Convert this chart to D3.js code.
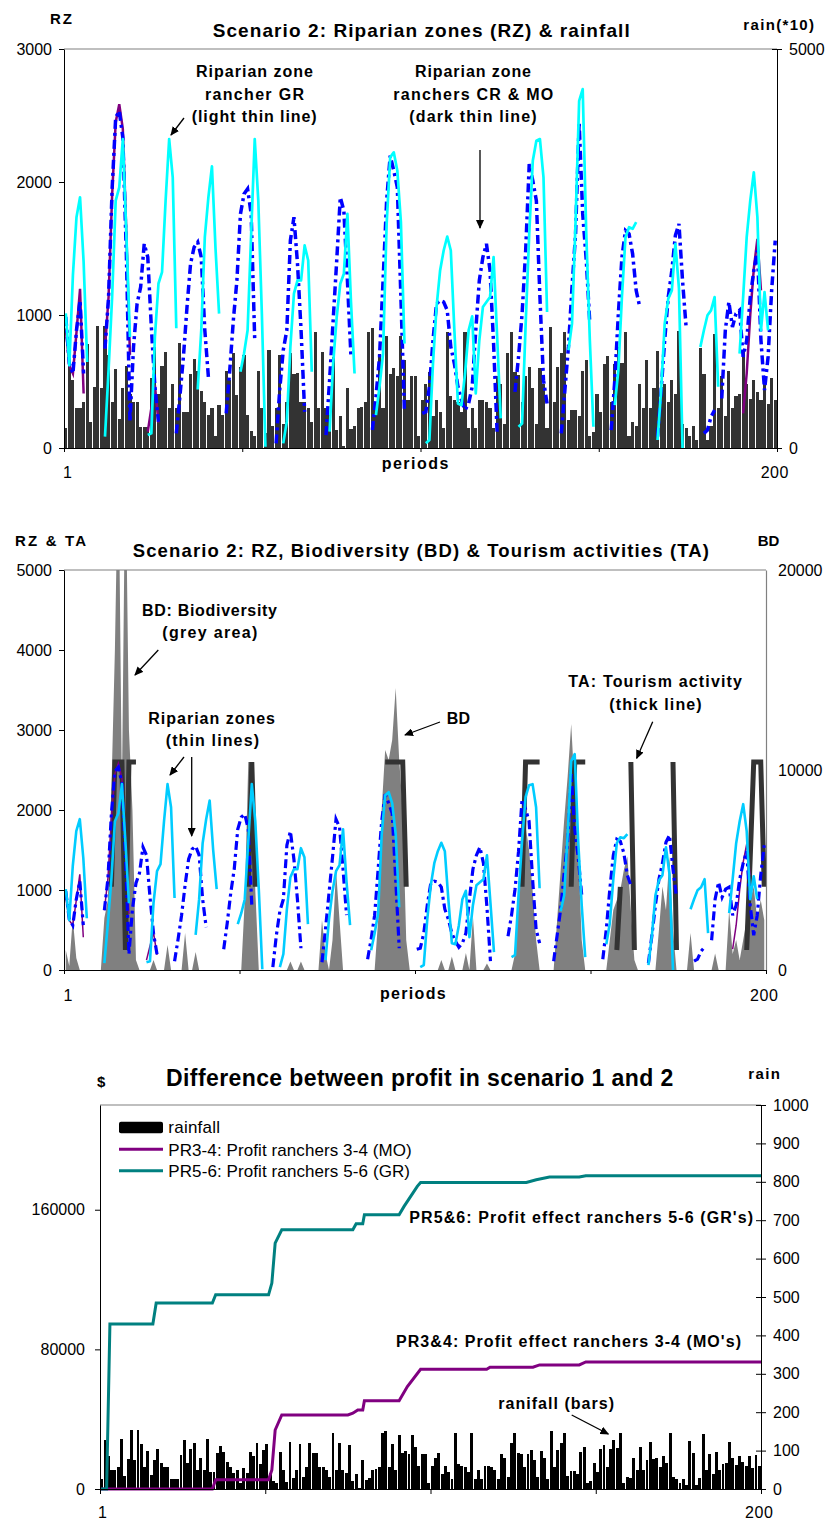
<!DOCTYPE html>
<meta charset="utf-8">
<style>
body { margin: 0; background: #fff; }
text { font-family: "Liberation Sans", Arial, sans-serif; fill: #000; }
</style>
<body>
<script src="https://d3js.org/d3.v7.min.js"></script>
<script>

// rainfall per period (mm), periods 1..200
var rain = [
  25,127,85,50,50,58,130,33,77,153, 75,153,116,58,99,36,75,103,68,58,
  58,26,26,26,88,127,68,103,120,50, 80,50,131,45,45,93,112,97,71,58,
  41,50,15,54,41,97,85,119,66,101, 116,41,21,15,97,50,19,123,28,50,
  116,30,58,119,93,94,58,58,50,32, 145,50,120,50,41,114,22,40,2,75,
  24,28,50,51,58,145,150,58,118,50, 140,93,100,90,140,110,60,90,90,15,
  60,80,95,40,60,45,25,145,65,60, 58,45,145,25,50,25,60,60,58,50,
  25,90,80,30,119,145,95,92,58,90, 101,75,30,100,80,25,152,58,101,119,
  145,35,48,48,40,97,110,15,20,68, 45,105,115,58,105,127,107,145,15,32,
  28,80,50,110,50,75,122,77,80,58, 85,68,147,30,25,15,27,10,125,93,
  10,28,143,50,90,40,97,50,65,68, 123,80,62,85,70,60,85,55,88,60
];

// riparian zones: [first period, consecutive values]
var rzGR = [
  [1, [1012,622,1300,1735,1885,1400,647]],
  [12, [85,585,1135,1860,1960,2323,1600,835]],
  [24, [98,110,835,1237,1323,1860,2323,2035,900]],
  [38, [440,885,1585,1885,2118,1500,1010]],
  [50, [573,710,885,1610,2323,1860,1010,10]],
  [62, [35,200,760,1160,1260,1260,1523,1410,573]],
  [75, [123,635,985,1235,1310,1760,1100,560]],
  [88, [247,460,710,1685,2185,2223,2085,1700,785]],
  [102, [35,60,635,1060,1335,1485,1590,1485,885,335,322,560,885,990,410,810,1060,1098,1135,1435,835,223]],
  [128, [160,185,935,1610,2160,2310,2323,2035,1022]],
  [142, [735,935,1700,2610,2698,1610,810,160]],
  [155, [322,585,1135,1585,1660,1648,1698]],
  [167, [60,435,935,1123,1185,1535,1200,0]],
  [179, [760,885,998,1035,1135,460]],
  [190, [710,1135,1585,1860,2073,1735,885,1172,885]]
];
var rzCR = [
  [1, [985,635,560,885,1110,560]],
  [12, [747,1135,1950,2485,2535,2335,1450,197,760,1085,1210,1535,1435,910,460,197]],
  [32, [110,385,685,1060,1385,1510,1548,1435,885,535]],
  [46, [260,585,960,1260,1760,1910,1948,1760,810]],
  [60, [35,435,735,885,1560,1735,1385,885,272]],
  [74, [97,510,960,1410,1885,1785,1260,685]],
  [87, [135,385,685,1260,1860,2198,2085,1960,1135,272]],
  [101, [260,272,460,810,1085,1110,1098,1035,760,635,460,360,285,335,460,885,1260,1435,1535,1335,785,110]],
  [127, [422,685,1010,1485,2135,2010,1860,1135,510,335]],
  [140, [110,435,760,1210,1610,2448,1760,1410,935]],
  [154, [135,510,1010,1435,1635,1610,1460,1185,1060]],
  [167, [85,435,810,1135,1335,1598,1685,1260,910]],
  [180, [110,135,235,285]],
  [185, [372,885,1098,910,1010,1035,685,810,1135,1335,1485,810,435,685,1185,1560]]
];
var rzMO = [
  [1, [900,620,560,870,1197,410]],
  [12, [747,1135,1900,2450,2585,2400,1610,700]],
  [24, [123,300,470,190]],
  [191, [260,560,1000,1350,1572,1185]]
];

// biodiversity per period, periods 1..200
var bd = [
  1000,200,2600,600,0,0,0,0,0,0, 0,2600,3500,9000,16000,26000,9000,26000,12000,8000,
  500,0,0,0,0,500,0,0,0,1250, 0,0,0,0,1850,0,0,900,0,0,
  0,0,0,0,0,0,0,0,0,0, 0,3500,10400,10400,4000,0,0,0,0,0,
  0,0,0,0,420,0,0,420,0,0, 0,0,0,2500,800,0,1500,5000,2500,0,
  0,0,0,0,0,0,0,0,0,2500, 8000,11000,10500,11500,14100,10500,8000,1500,0,0,
  0,0,0,0,0,0,0,500,0,0, 670,0,0,0,850,0,2670,0,0,0,
  330,0,0,0,0,0,0,0,800,3500, 7000,7200,6000,4000,1500,0,0,0,0,0,
  2500,5000,7500,9700,12300,9000,6000,1500,0,0, 0,0,0,0,0,1500,3000,3500,4000,5000,
  5670,3000,500,0,0,0,0,0,0,2000, 4170,3000,5670,2000,0,0,0,0,1850,0,
  0,0,0,0,0,830,0,0,0,3000, 800,1500,500,1500,2500,3500,4170,2500,3500,2500
];

// tourism activity: [first period, consecutive values]
var ta = [
  [14, [1040,2600,2600,2600,250,2600,2600,2600]],
  [53, [1040,2600,1040]],
  [92, [2600,2600,2600,2600,2600,2600,1040]],
  [131, [1040,2600,2600,2600,2600,2600]],
  [145, [1040,2600,2600,2600,2600]],
  [158, [250,1040]],
  [162, [2600,250]],
  [174, [2600,250]],
  [195, [250,1400,2600,2600,2600,1040]]
];

// cumulative profit difference: [period, $]
var profitMO = [[0,0],[34,0],[35,5300],[51,5300],[52,10900],[53,33800],[55,42400],[75,42400],
  [76.5,43400],[78,45300],[79.5,45300],[80,50600],[90.5,50600],[93,58700],[97,68600],[117,68600],
  [118,69800],[131,69800],[133,71100],[145,71100],[147,72800],[200,72800]];
var profitGR = [[0,0],[2,0],[3,94600],[16,94600],[17,106500],[34,106500],[35,111250],[51,111250],
  [52,118000],[53,140900],[55,148500],[76.5,148500],[77.5,152000],[79.5,152000],[80,157100],
  [90.5,157100],[92,161900],[96,173400],[97,175600],[129,175600],[132,177200],[136,178700],
  [145,178700],[147,179500],[200,179500]];

var svg = d3.select("body").append("svg")
    .attr("width", 831).attr("height", 1519);
svg.append("rect").attr("width", 831).attr("height", 1519).attr("fill", "#fff");

var defs = svg.append("defs");
defs.append("marker").attr("id", "arr")
    .attr("markerUnits", "userSpaceOnUse")
    .attr("markerWidth", 9).attr("markerHeight", 8)
    .attr("refX", 8).attr("refY", 4).attr("orient", "auto")
  .append("path").attr("d", "M0,0 L9,4 L0,8 z").attr("fill", "#000");

var fmt = d3.format("d");

function label(g, s, x, y, size, bold, len) {
  var t = g.append("text").attr("x", x).attr("y", y)
      .attr("font-size", size)
      .attr("font-weight", bold ? "bold" : "normal")
      .text(s);
  if (len) t.attr("textLength", len).attr("lengthAdjust", "spacing");
  return t;
}
function arrow(g, x1, y1, x2, y2) {
  g.append("line").attr("x1", x1).attr("y1", y1).attr("x2", x2).attr("y2", y2)
    .attr("stroke", "#000").attr("stroke-width", 1.3).attr("marker-end", "url(#arr)");
}
function segPoints(segs) {
  var pts = [];
  segs.forEach(function(s) {
    s[1].forEach(function(v, i) { pts.push([s[0] + i, v]); });
    pts.push([null, null]);
  });
  return pts;
}
function styleAxis(a) {
  a.attr("font-size", 16).attr("font-family", "Liberation Sans, Arial, sans-serif");
  a.selectAll("path, line").attr("stroke", "#000");
  a.selectAll("text").attr("fill", "#000");
}
function clip(id, x0, y0, x1, y1) {
  defs.append("clipPath").attr("id", id).append("rect")
    .attr("x", x0).attr("y", y0).attr("width", x1 - x0).attr("height", y1 - y0);
}

// ---------------- panel 1: riparian zones & rainfall ----------------
var p1 = {l: 64, r: 777, t: 49, b: 448};
var x1 = d3.scaleLinear().domain([0, 200]).range([p1.l, p1.r]);
var y1 = d3.scaleLinear().domain([0, 3000]).range([p1.b, p1.t]);
var y1r = d3.scaleLinear().domain([0, 5000]).range([p1.b, p1.t]);
var g1 = svg.append("g");
clip("c1", p1.l, p1.t, p1.r, p1.b + 2);
var g1c = g1.append("g").attr("clip-path", "url(#c1)");

g1.append("line").attr("x1", p1.l).attr("x2", p1.r).attr("y1", p1.t).attr("y2", p1.t)
  .attr("stroke", "#808080").attr("stroke-width", 1.2);

g1c.selectAll(".bar").data(rain).enter().append("rect")
  .attr("x", function(d, i) { return x1(i) + 0.2; })
  .attr("width", x1(1) - x1(0) - 0.4)
  .attr("y", function(d) { return y1r(d * 10); })
  .attr("height", function(d) { return p1.b - y1r(d * 10); })
  .attr("fill", "#333").attr("shape-rendering", "crispEdges");

var line1 = d3.line().defined(function(d) { return d[1] != null; })
  .x(function(d) { return x1(d[0] - 0.5); })
  .y(function(d) { return y1(d[1]); });
g1c.append("path").attr("d", line1(segPoints(rzMO))).attr("fill", "none")
  .attr("stroke", "#800080").attr("stroke-width", 2.5);
g1c.append("path").attr("d", line1(segPoints(rzCR))).attr("fill", "none")
  .attr("stroke", "#0000ff").attr("stroke-width", 3.5).attr("stroke-dasharray", "9,4,3,4");
g1c.append("path").attr("d", line1(segPoints(rzGR))).attr("fill", "none")
  .attr("stroke", "#00ffff").attr("stroke-width", 2.7).attr("stroke-linejoin", "round");

var a;
a = g1.append("g").attr("transform", "translate(" + p1.l + ",0)")
  .call(d3.axisLeft(y1).tickValues([0, 1000, 2000, 3000]).tickFormat(fmt).tickSize(5).tickSizeOuter(0).tickPadding(7));
styleAxis(a);
a = g1.append("g").attr("transform", "translate(" + p1.r + ",0)")
  .call(d3.axisRight(y1r).tickValues([0, 5000]).tickFormat(fmt).tickSize(5).tickSizeOuter(0).tickPadding(7));
styleAxis(a); a.selectAll(".tick line").attr("x1", -5);
a = g1.append("g").attr("transform", "translate(0," + p1.b + ")")
  .call(d3.axisBottom(x1).tickValues([0, 50, 100, 150, 200]).tickSize(4).tickSizeOuter(0).tickFormat(""));
styleAxis(a);

label(g1, "Scenario 2: Riparian zones (RZ) & rainfall", 212.7, 36.5, 19, true, 417);
label(g1, "RZ", 50, 24.3, 15, true, 22);
label(g1, "rain(*10)", 743.3, 29.5, 15, true, 70.7);
label(g1, "Riparian zone", 196, 77.3, 16, true, 117);
label(g1, "rancher GR", 205, 99.7, 16, true, 99);
label(g1, "(light thin line)", 191.7, 122.3, 16, true, 125);
label(g1, "Riparian zone", 415, 77.3, 16, true, 116);
label(g1, "ranchers CR & MO", 393.3, 99.7, 16, true, 160);
label(g1, "(dark thin line)", 409.3, 122.3, 16, true, 127.3);
arrow(g1, 184, 118, 171, 135);
arrow(g1, 480, 150, 480, 228);
label(g1, "periods", 381.7, 469, 16, true, 66.6);
label(g1, "1", 63, 478.3, 16, false);
label(g1, "200", 760.7, 478.3, 16, false, 27.6);

// ---------------- panel 2: RZ, biodiversity & tourism ----------------
var p2 = {l: 64, r: 766, t: 570, b: 970};
var x2 = d3.scaleLinear().domain([0, 200]).range([p2.l, p2.r]);
var y2 = d3.scaleLinear().domain([0, 5000]).range([p2.b, p2.t]);
var y2r = d3.scaleLinear().domain([0, 20000]).range([p2.b, p2.t]);
var g2 = svg.append("g");
clip("c2", p2.l, p2.t, p2.r, p2.b + 2);
var g2c = g2.append("g").attr("clip-path", "url(#c2)");

var area2 = d3.area()
  .x(function(d, i) { return x2(i + 0.5); })
  .y0(p2.b).y1(function(d) { return y2r(d); });
g2c.append("path").attr("d", area2(bd)).attr("fill", "#808080");

var line2 = d3.line().defined(function(d) { return d[1] != null; })
  .x(function(d) { return x2(d[0] - 0.5); })
  .y(function(d) { return y2(d[1]); });
g2c.append("path").attr("d", line2(segPoints(ta))).attr("fill", "none")
  .attr("stroke", "#333").attr("stroke-width", 5);
g2c.append("path").attr("d", line2(segPoints(rzMO))).attr("fill", "none")
  .attr("stroke", "#800080").attr("stroke-width", 1.5);
g2c.append("path").attr("d", line2(segPoints(rzCR))).attr("fill", "none")
  .attr("stroke", "#0000ff").attr("stroke-width", 3.2).attr("stroke-dasharray", "9,4,3,4");
g2c.append("path").attr("d", line2(segPoints(rzGR))).attr("fill", "none")
  .attr("stroke", "#00ccff").attr("stroke-width", 2.6).attr("stroke-linejoin", "round");

g2.append("line").attr("x1", p2.l).attr("x2", p2.r).attr("y1", p2.t).attr("y2", p2.t)
  .attr("stroke", "#808080").attr("stroke-width", 1.2);
a = g2.append("g").attr("transform", "translate(" + p2.l + ",0)")
  .call(d3.axisLeft(y2).tickValues([0, 1000, 2000, 3000, 4000, 5000]).tickFormat(fmt).tickSize(5).tickSizeOuter(0).tickPadding(7));
styleAxis(a);
a = g2.append("g").attr("transform", "translate(" + p2.r + ",0)")
  .call(d3.axisRight(y2r).tickValues([0, 10000, 20000]).tickFormat(fmt).tickSize(0).tickPadding(12));
styleAxis(a); a.select(".domain").attr("stroke", "#808080").attr("stroke-width", 1.2);
a = g2.append("g").attr("transform", "translate(0," + p2.b + ")")
  .call(d3.axisBottom(x2).tickValues([0, 50, 100, 150, 200]).tickSize(4).tickSizeOuter(0).tickFormat(""));
styleAxis(a);

label(g2, "Scenario 2: RZ, Biodiversity (BD) & Tourism activities (TA)", 132.7, 556.8, 18.5, true, 576.3);
label(g2, "RZ  & TA", 15, 546, 15, true, 71);
label(g2, "BD", 757.7, 546, 15, true, 21.6);
label(g2, "BD: Biodiversity", 142, 615.5, 16, true, 135);
label(g2, "(grey area)", 162.3, 637.5, 16, true, 95);
arrow(g2, 158.3, 650, 135, 675);
label(g2, "Riparian zones", 148.3, 724, 16, true, 126.7);
label(g2, "(thin lines)", 165.7, 745.5, 16, true, 93.3);
arrow(g2, 184, 757, 170, 775);
arrow(g2, 191.7, 757, 191.7, 836);
label(g2, "BD", 446.7, 724, 16, true, 23.3);
arrow(g2, 440, 722, 405, 735);
label(g2, "TA: Tourism activity", 568.3, 687.3, 16, true, 173.7);
label(g2, "(thick line)", 609.3, 709.5, 16, true, 92.4);
arrow(g2, 652.7, 721.7, 636.7, 758.3);
label(g2, "periods", 380, 999.3, 16, true, 65.7);
label(g2, "1", 63.5, 1000.7, 16, false);
label(g2, "200", 750, 1000.7, 16, false, 28);

// ---------------- panel 3: profit difference ----------------
var p3 = {l: 100, r: 761, t: 1105, b: 1489};
var x3 = d3.scaleLinear().domain([0, 200]).range([p3.l, p3.r]);
var y3 = d3.scaleLinear().domain([0, 220000]).range([p3.b, p3.t]);
var y3r = d3.scaleLinear().domain([0, 1000]).range([p3.b, p3.t]);
var g3 = svg.append("g");
clip("c3", p3.l, p3.t, p3.r, p3.b + 2);
var g3c = g3.append("g").attr("clip-path", "url(#c3)");

g3.append("line").attr("x1", p3.l).attr("x2", p3.r).attr("y1", p3.t).attr("y2", p3.t)
  .attr("stroke", "#808080").attr("stroke-width", 1.2);

g3c.selectAll(".bar").data(rain).enter().append("rect")
  .attr("x", function(d, i) { return x3(i) + 0.2; })
  .attr("width", x3(1) - x3(0) - 0.4)
  .attr("y", function(d) { return y3r(d); })
  .attr("height", function(d) { return p3.b - y3r(d); })
  .attr("fill", "#000").attr("shape-rendering", "crispEdges");

var line3 = d3.line()
  .x(function(d) { return x3(d[0]); })
  .y(function(d) { return y3(d[1]); });
g3c.append("path").attr("d", line3(profitMO)).attr("fill", "none")
  .attr("stroke", "#800080").attr("stroke-width", 3);
g3c.append("path").attr("d", line3(profitGR)).attr("fill", "none")
  .attr("stroke", "#008080").attr("stroke-width", 3);

a = g3.append("g").attr("transform", "translate(" + p3.l + ",0)")
  .call(d3.axisLeft(y3).tickValues([0, 80000, 160000]).tickFormat(fmt).tickSize(5).tickSizeOuter(0).tickPadding(10));
styleAxis(a);
a = g3.append("g").attr("transform", "translate(" + p3.r + ",0)")
  .call(d3.axisRight(y3r).tickValues(d3.range(0, 1001, 100)).tickFormat(fmt).tickSize(5).tickSizeOuter(0).tickPadding(7));
styleAxis(a); a.selectAll(".tick line").attr("x1", -5);
a = g3.append("g").attr("transform", "translate(0," + p3.b + ")")
  .call(d3.axisBottom(x3).tickValues([0, 50, 100, 150, 200]).tickSize(5).tickSizeOuter(0).tickFormat(""));
styleAxis(a);

// legend
g3.append("rect").attr("x", 119).attr("y", 1121.7).attr("width", 44).attr("height", 11.6)
  .attr("rx", 2).attr("fill", "#000");
g3.append("line").attr("x1", 119).attr("x2", 163).attr("y1", 1149.3).attr("y2", 1149.3)
  .attr("stroke", "#800080").attr("stroke-width", 3);
g3.append("line").attr("x1", 119).attr("x2", 163).attr("y1", 1170.7).attr("y2", 1170.7)
  .attr("stroke", "#008080").attr("stroke-width", 3);
label(g3, "rainfall", 168.3, 1132.7, 17, false, 51.7);
label(g3, "PR3-4: Profit ranchers 3-4 (MO)", 168.3, 1155.5, 17, false, 243.4);
label(g3, "PR5-6: Profit ranchers 5-6 (GR)", 168.3, 1176.7, 17, false, 241.7);

label(g3, "Difference between profit in scenario 1 and 2", 166, 1086, 23, true, 507.3);
label(g3, "$", 97, 1087, 15, true);
label(g3, "rain", 748.3, 1078.7, 15, true, 31.7);
label(g3, "PR5&6: Profit effect ranchers 5-6  (GR's)", 409.3, 1222.5, 16, true, 343.7);
label(g3, "PR3&4: Profit effect ranchers 3-4 (MO's)", 396, 1346.5, 16, true, 345);
label(g3, "ranifall (bars)", 498.3, 1409, 16, true, 115.7);
arrow(g3, 571.7, 1415, 608.3, 1434);
label(g3, "1", 98, 1517.5, 16, false);
label(g3, "200", 745, 1517.5, 16, false, 28);

</script>
</body>
